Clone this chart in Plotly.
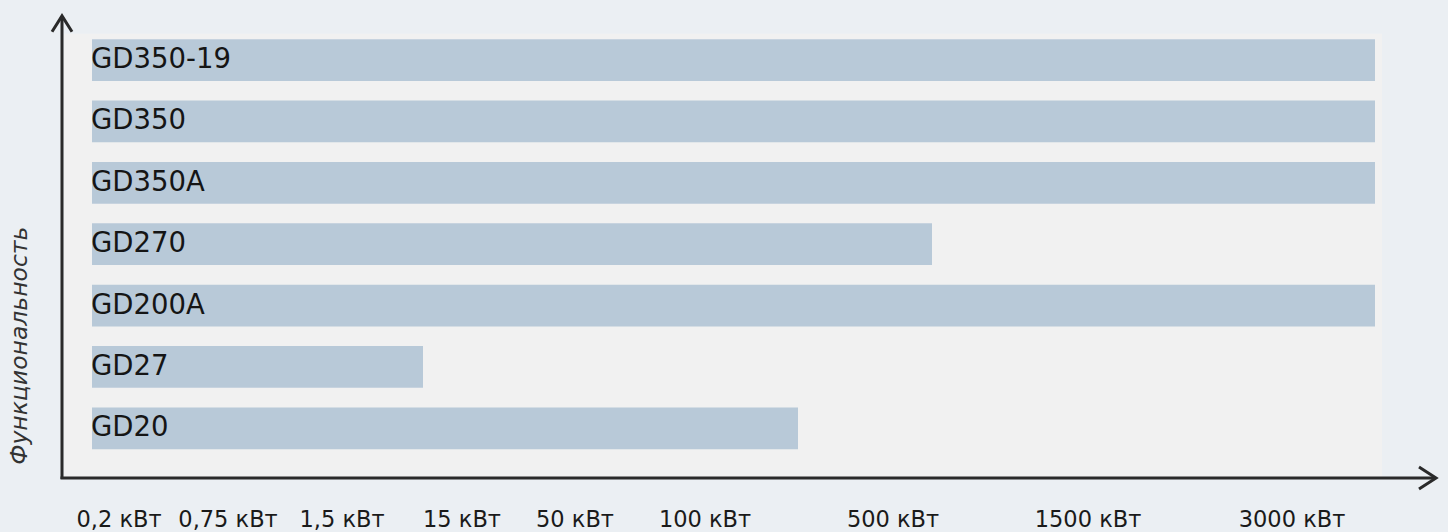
import plotly.graph_objects as go

# ---- data (x in chart scale units; 0 = vertical axis) ----
models = ["GD20", "GD27", "GD200A", "GD270", "GD350A", "GD350", "GD350-19"]
bar_start = 30
bar_end = [736, 361, 1313, 870, 1313, 1313, 1313]
tick_labels = ["0,2 кВт", "0,75 кВт", "1,5 кВт", "15 кВт", "50 кВт",
               "100 кВт", "500 кВт", "1500 кВт", "3000 кВт"]
tick_pos = [57, 166, 280, 400, 513, 643, 831, 1026, 1230]
y_title = "Функциональность"

W, H = 1448, 532
B = 51            # bottom margin -> horizontal axis at pixel 481
AX_X = 62         # pixel of vertical axis
PH = H - B

BG = "#ebeff3"
BAR = "#b8c9d8"
LINE = "#2a2a2a"
FONT = "DejaVu Sans"

def px(xp):
    return xp / W

def py(yp):
    return (PH - yp) / PH

fig = go.Figure()
fig.add_trace(go.Bar(
    y=models,
    x=[e - bar_start for e in bar_end],
    base=bar_start,
    orientation="h",
    width=0.68,
    marker=dict(color=BAR, line=dict(width=0)),
    hoverinfo="skip",
))

annotations = []
for m in models:
    annotations.append(dict(
        x=bar_start, y=m, xref="x", yref="y", text=m, showarrow=False,
        xanchor="left", yanchor="middle", xshift=-3, yshift=2,
        font=dict(family=FONT, size=27.5, color="#151515"),
    ))
annotations.append(dict(
    x=px(19), y=py(348), xref="paper", yref="paper", text="<i>" + y_title + "</i>",
    showarrow=False, textangle=-90, xanchor="center", yanchor="middle",
    font=dict(family=FONT, size=23.5, color="#333333"),
))

shapes = [
    dict(type="rect", xref="paper", yref="paper", x0=px(64), x1=px(1382),
         y0=py(34), y1=py(480), fillcolor="#f1f1f1", line=dict(width=0), layer="below"),
    # vertical axis
    dict(type="line", xref="paper", yref="paper", x0=px(AX_X), x1=px(AX_X),
         y0=py(482), y1=py(16), line=dict(color=LINE, width=3)),
    dict(type="path", xref="paper", yref="paper",
         path=f"M {px(52)} {py(32)} L {px(AX_X)} {py(16)} L {px(72)} {py(32)}",
         line=dict(color=LINE, width=3)),
    # horizontal axis
    dict(type="line", xref="paper", yref="paper", x0=px(AX_X - 1.5), x1=px(1435),
         y0=py(481), y1=py(481), line=dict(color=LINE, width=3)),
    dict(type="path", xref="paper", yref="paper",
         path=f"M {px(1419)} {py(470)} L {px(1436)} {py(481)} L {px(1419)} {py(492)}",
         line=dict(color=LINE, width=3)),
]

top_idx = 6 + 60.5 / 61.75
bot_idx = -(PH - 431) / 61.75

fig.update_layout(
    width=W, height=H,
    margin=dict(l=0, r=0, t=0, b=B, pad=0),
    paper_bgcolor=BG, plot_bgcolor="rgba(0,0,0,0)",
    showlegend=False,
    bargap=0.3,
    annotations=annotations,
    shapes=shapes,
    xaxis=dict(range=[-AX_X, W - AX_X], showgrid=False, zeroline=False, showline=False,
               tickmode="array", tickvals=tick_pos, ticktext=tick_labels, ticks="",
               ticklabelstandoff=25,
               tickfont=dict(family=FONT, size=22.5, color="#1a1a1a"), fixedrange=True),
    yaxis=dict(range=[bot_idx, top_idx], showgrid=False, zeroline=False, showline=False,
               showticklabels=False, ticks="", type="category", fixedrange=True,
               categoryorder="array", categoryarray=models),
)

fig.write_html("out.html")
